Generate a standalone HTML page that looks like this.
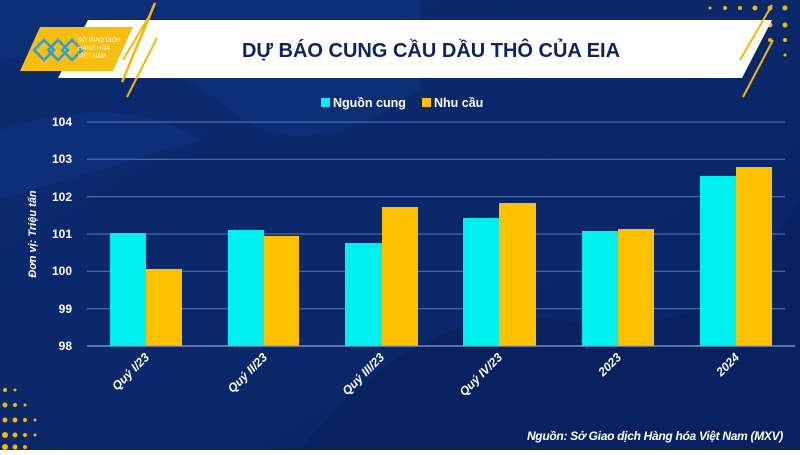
<!DOCTYPE html>
<html><head><meta charset="utf-8"><style>
body{margin:0;width:800px;height:450px;overflow:hidden;font-family:"Liberation Sans",sans-serif;}
</style></head><body>
<svg width="800" height="450" viewBox="0 0 800 450" xmlns="http://www.w3.org/2000/svg" font-family="Liberation Sans, sans-serif">
<defs>
<linearGradient id="bg" x1="0" y1="0" x2="1" y2="1">
<stop offset="0" stop-color="#0b2a6e"/><stop offset="1" stop-color="#0a2566"/></linearGradient>
</defs>
<rect width="800" height="450" fill="url(#bg)"/>
<path d="M0 60 Q150 40 230 110 Q300 170 420 90 L420 0 L0 0Z" fill="#0f3480" opacity="0.5"/>
<path d="M300 450 Q420 300 560 320 Q700 340 760 260 L800 200 L800 450Z" fill="#07205a" opacity="0.6"/>
<path d="M0 130 Q120 90 200 140 L0 200Z" fill="#113683" opacity="0.5"/>
<g fill="#f5b800">
<circle cx="710" cy="8" r="1.5"/><circle cx="725" cy="8" r="2"/><circle cx="740" cy="8" r="2"/><circle cx="755" cy="8" r="2.5"/><circle cx="770" cy="8" r="2.5"/><circle cx="785" cy="8" r="2.5"/>
<circle cx="725" cy="25" r="1.5"/><circle cx="740" cy="25" r="2"/><circle cx="755" cy="25" r="2"/><circle cx="770" cy="25" r="2.5"/><circle cx="785" cy="25" r="2.5"/>
<circle cx="770" cy="40" r="2"/><circle cx="785" cy="40" r="2"/><circle cx="785" cy="55" r="1.5"/>
<circle cx="5" cy="390" r="2"/><circle cx="15" cy="390" r="1.5"/><circle cx="5" cy="405" r="2.5"/><circle cx="15" cy="405" r="2"/><circle cx="25" cy="405" r="1.5"/>
<circle cx="5" cy="420" r="2.5"/><circle cx="15" cy="420" r="2.5"/><circle cx="25" cy="420" r="2"/><circle cx="35" cy="420" r="1.5"/>
<circle cx="5" cy="435" r="3"/><circle cx="15" cy="435" r="2.5"/><circle cx="25" cy="435" r="2"/><circle cx="35" cy="435" r="1.5"/>
<circle cx="5" cy="447" r="3"/><circle cx="15" cy="447" r="2.5"/><circle cx="25" cy="447" r="2"/>
</g>
<polygon points="88,20 772,20 742,78 58,78" fill="#ffffff"/>
<line x1="155" y1="3" x2="122" y2="82" stroke="#f5b800" stroke-width="2.5"/>
<line x1="148" y1="18" x2="123" y2="60" stroke="#f5b800" stroke-width="2"/>
<line x1="157" y1="38" x2="127" y2="97" stroke="#f5b800" stroke-width="2"/>
<line x1="772" y1="5" x2="740" y2="60" stroke="#f5b800" stroke-width="2"/>
<line x1="773" y1="40" x2="743" y2="97" stroke="#f5b800" stroke-width="2"/>
<polygon points="40,27 133,27 113,71 20,71" fill="#f7bd10"/>
<g fill="none" stroke="#2a9fd6" stroke-width="2.5">
<path d="M34 50 L44 40 L54 50 L44 60Z"/><path d="M48 50 L58 40 L68 50 L58 60Z"/><path d="M62 50 L72 40 L82 50 L72 60Z"/>
</g>
<text x="78" y="42" font-size="6" fill="#ffffff">SỞ GIAO DỊCH</text>
<text x="78" y="50" font-size="6" fill="#ffffff">HÀNG HÓA</text>
<text x="78" y="58" font-size="6" fill="#ffffff">VIỆT NAM</text>
<text x="431" y="57" font-size="20" font-weight="bold" fill="#0d2463" text-anchor="middle">DỰ BÁO CUNG CẦU DẦU THÔ CỦA EIA</text>
<rect x="321" y="98" width="9" height="9" fill="#00f0f0"/>
<text x="333" y="107" font-size="12.5" font-weight="bold" fill="#fff">Nguồn cung</text>
<rect x="422" y="98" width="9" height="9" fill="#ffc000"/>
<text x="434" y="107" font-size="12.5" font-weight="bold" fill="#fff">Nhu cầu</text>
<g stroke="#5a78b8" stroke-width="1">
<line x1="87" y1="122" x2="785" y2="122"/><line x1="87" y1="159.3" x2="785" y2="159.3"/><line x1="87" y1="196.7" x2="785" y2="196.7"/><line x1="87" y1="234" x2="785" y2="234"/><line x1="87" y1="271.3" x2="785" y2="271.3"/><line x1="87" y1="308.7" x2="785" y2="308.7"/>
</g>
<g font-size="12" font-weight="bold" fill="#fff" text-anchor="end">
<text x="72" y="126">104</text><text x="72" y="163">103</text><text x="72" y="201">102</text><text x="72" y="238">101</text><text x="72" y="275">100</text><text x="72" y="313">99</text><text x="72" y="350">98</text>
</g>
<text transform="translate(36,234) rotate(-90)" font-size="11" font-weight="bold" font-style="italic" fill="#fff" text-anchor="middle">Đơn vị: Triệu tấn</text>
<g fill="#00f0f0">
<rect x="110" y="233" width="36" height="113"/><rect x="228" y="230" width="36" height="116"/><rect x="345" y="243" width="37" height="103"/><rect x="463" y="218" width="36" height="128"/><rect x="582" y="231" width="36" height="115"/><rect x="700" y="176" width="36" height="170"/>
</g>
<g fill="#ffc000">
<rect x="146" y="269" width="36" height="77"/><rect x="264" y="236" width="35" height="110"/><rect x="382" y="207" width="36" height="139"/><rect x="499" y="203" width="37" height="143"/><rect x="618" y="229" width="36" height="117"/><rect x="736" y="167" width="36" height="179"/>
</g>
<line x1="87" y1="346" x2="795" y2="346" stroke="#8fa5d0" stroke-width="1.2"/>
<g font-size="12" font-weight="bold" font-style="italic" fill="#fff" text-anchor="end">
<text transform="translate(150,358) rotate(-45)">Quý I/23</text>
<text transform="translate(268,358) rotate(-45)">Quý II/23</text>
<text transform="translate(385,358) rotate(-45)">Quý III/23</text>
<text transform="translate(503,358) rotate(-45)">Quý IV/23</text>
<text transform="translate(622,358) rotate(-45)">2023</text>
<text transform="translate(740,358) rotate(-45)">2024</text>
</g>
<text x="783" y="440" font-size="12" font-weight="bold" font-style="italic" fill="#fff" text-anchor="end" letter-spacing="-0.3">Nguồn: Sở Giao dịch Hàng hóa Việt Nam (MXV)</text>
</svg>
</body></html>
